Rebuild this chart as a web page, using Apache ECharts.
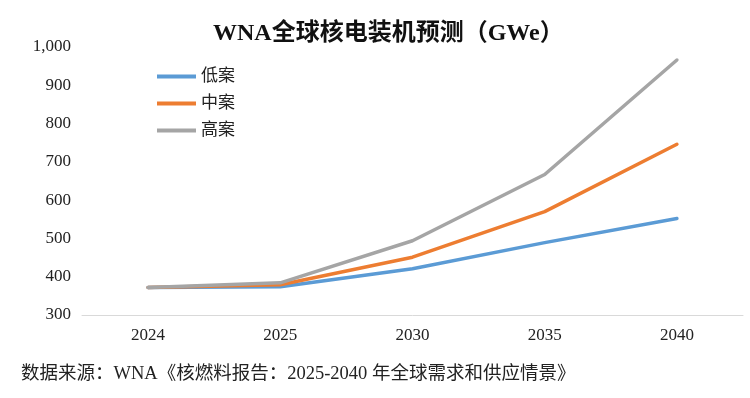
<!DOCTYPE html>
<html>
<head>
    <meta charset="utf-8">
    <title>WNA全球核电装机预测</title>
    <script src="https://cdn.jsdelivr.net/npm/echarts@6/dist/echarts.min.js"></script>
    <style>
        html, body { margin: 0; padding: 0; background: #fff; }
    </style>
</head>
<body>
<div id="main" style="width: 750px;height:398px;"></div>
<script type="text/javascript">
    // 数据
    var years = ['2024', '2025', '2030', '2035', '2040'];
    var lowCase = [372, 374, 421, 489, 552];
    var midCase = [372, 379, 451, 570, 746];
    var highCase = [372, 384, 494, 667, 966];

    var serif = '"Liberation Serif", "Noto Sans CJK SC", serif';

    var myChart = echarts.init(document.getElementById('main'), null, {renderer: 'canvas'});

    function lineSeries(name, data, color) {
        return {
            name: name,
            type: 'line',
            data: data,
            showSymbol: false,
            symbol: 'none',
            lineStyle: {width: 3.5, color: color, cap: 'round', join: 'round'},
            itemStyle: {color: color}
        };
    }

    var option = {
        backgroundColor: '#fff',
        animation: false,
        title: {
            text: 'WNA全球核电装机预测（GWe）',
            left: 208,
            top: 17,
            textStyle: {fontFamily: serif, fontSize: 24, fontWeight: 'bold', color: '#111'}
        },
        legend: {
            orient: 'vertical',
            left: 152,
            top: 63,
            itemGap: 10,
            itemWidth: 39,
            itemHeight: 4,
            icon: 'rect',
            textStyle: {fontFamily: serif, fontSize: 17, color: '#222'},
            data: ['低案', '中案', '高案']
        },
        grid: {left: 82, right: 7, top: 47, bottom: 83},
        xAxis: {
            type: 'category',
            data: years,
            boundaryGap: true,
            axisLine: {show: true, lineStyle: {color: '#d9d9d9', width: 1}},
            axisTick: {show: false},
            axisLabel: {fontFamily: serif, fontSize: 17, color: '#222', margin: 12}
        },
        yAxis: {
            type: 'value',
            min: 300,
            max: 1000,
            interval: 100,
            axisLine: {show: false},
            axisTick: {show: false},
            splitLine: {show: false},
            axisLabel: {
                fontFamily: serif, fontSize: 17, color: '#222', margin: 11,
                formatter: function (v) { return v.toLocaleString('en-US'); }
            }
        },
        graphic: [{
            type: 'text',
            left: 21,
            top: 365,
            style: {
                text: '数据来源：WNA《核燃料报告：2025-2040 年全球需求和供应情景》',
                font: '18.5px ' + serif,
                fill: '#222'
            }
        }],
        series: [
            lineSeries('低案', lowCase, '#5B9BD5'),
            lineSeries('中案', midCase, '#ED7D31'),
            lineSeries('高案', highCase, '#A5A5A5')
        ]
    };

    myChart.setOption(option);
</script>
</body>
</html>
